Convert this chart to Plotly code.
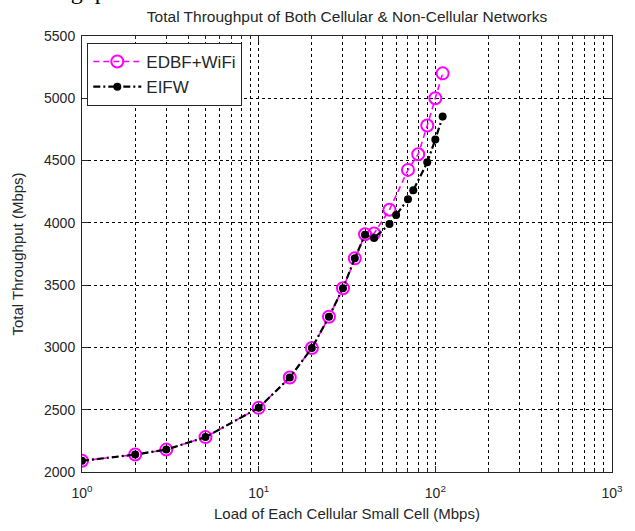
import plotly.graph_objects as go

# Load of each cellular small cell (Mbps) and total throughput (Mbps)
load_edbf = [1, 2, 3, 5, 10, 15, 20, 25, 30, 35, 40, 45, 55, 70, 80, 90, 100, 110]
thr_edbf = [2090, 2140, 2180, 2280, 2515, 2758, 2995, 3246, 3475, 3715, 3908, 3915,
            4105, 4425, 4551, 4781, 5000, 5200]

load_eifw = [1, 2, 3, 5, 10, 15, 20, 25, 30, 35, 40, 45, 55, 60, 70, 75, 90, 100, 110]
thr_eifw = [2090, 2140, 2180, 2280, 2515, 2758, 2995, 3246, 3475, 3715, 3905, 3879,
            3990, 4063, 4190, 4261, 4486, 4670, 4854]

x_major = [1, 10, 100, 1000]
x_major_text = ["10<sup>0</sup>", "10<sup>1</sup>", "10<sup>2</sup>", "10<sup>3</sup>"]
x_minor = [m * d for d in (1, 10, 100) for m in range(2, 10)]
y_ticks = [2000, 2500, 3000, 3500, 4000, 4500, 5000, 5500]

FONT = "Arial, Liberation Sans, sans-serif"
INK = "#262626"

fig = go.Figure()
fig.add_trace(go.Scatter(
    x=load_edbf, y=thr_edbf, name="EDBF+WiFi", mode="lines+markers",
    line=dict(color="#ff00ff", width=1.6, dash="6px,4px"),
    marker=dict(symbol="circle-open", size=12, color="#ff00ff",
                line=dict(width=2, color="#ff00ff")),
))
fig.add_trace(go.Scatter(
    x=load_eifw, y=thr_eifw, name="EIFW", mode="lines+markers",
    line=dict(color="black", width=2.2, dash="7px,3px,2px,3px"),
    marker=dict(symbol="circle", size=8, color="black"),
))

grid = dict(showgrid=True, gridcolor="black", gridwidth=1, griddash="3px,3px")

fig.update_xaxes(
    type="log", range=[0, 3],
    tickvals=x_major, ticktext=x_major_text,
    ticks="inside", ticklen=6, tickcolor=INK, ticklabelstandoff=8,
    showline=True, linecolor=INK, linewidth=1, mirror="ticks",
    tickfont=dict(family=FONT, size=14, color=INK),
    minor=dict(tickvals=x_minor, ticks="inside", ticklen=3, tickcolor=INK, **grid),
    title=dict(text="Load of Each Cellular Small Cell (Mbps)",
               font=dict(family=FONT, size=15, color=INK), standoff=8),
    zeroline=False, **grid,
)
fig.update_yaxes(
    range=[2000, 5500], tickvals=y_ticks,
    ticks="inside", ticklen=6, tickcolor=INK, ticklabelstandoff=3,
    showline=True, linecolor=INK, linewidth=1, mirror="ticks",
    tickfont=dict(family=FONT, size=14, color=INK),
    title=dict(text="Total Throughput (Mbps)",
               font=dict(family=FONT, size=15, color=INK), standoff=16),
    zeroline=False, **grid,
)

fig.update_layout(
    width=635, height=531,
    margin=dict(l=82, r=18, t=36, b=52),
    paper_bgcolor="white", plot_bgcolor="white",
    title=dict(text="Total Throughput of Both Cellular & Non-Cellular Networks",
               font=dict(family=FONT, size=15.5, color=INK),
               x=0.5, xref="paper", xanchor="center",
               y=1 - 17 / 531, yref="container", yanchor="middle"),
    legend=dict(x=0.01, y=0.984, xanchor="left", yanchor="top",
                bgcolor="white", bordercolor=INK, borderwidth=1,
                font=dict(family=FONT, size=17, color=INK),
                itemwidth=48, tracegroupgap=2),
    showlegend=True,
    annotations=[dict(text="throughput", xref="paper", yref="paper",
                      x=(17 - 82) / 535, y=1 + (36 - 6) / 443,
                      xanchor="left", yanchor="bottom", showarrow=False,
                      font=dict(family="Liberation Serif, Times New Roman, serif",
                                size=24, color="black"))],
)

fig.write_html("out.html")
